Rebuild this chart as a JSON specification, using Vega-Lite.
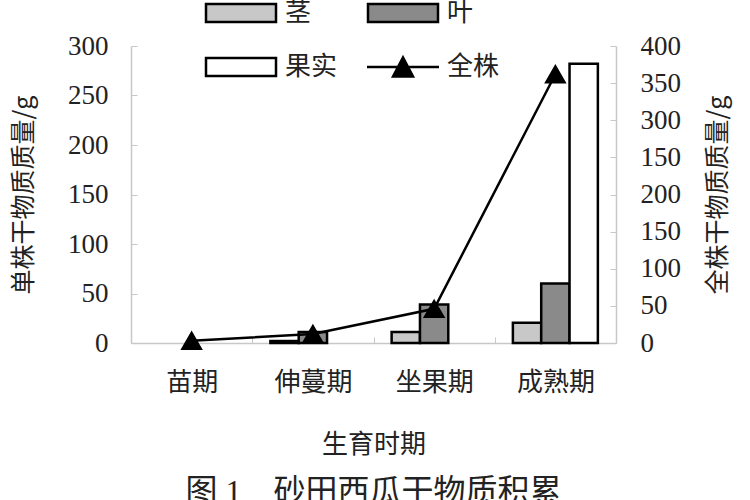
{
  "$schema": "https://vega.github.io/schema/vega-lite/v6.json",
  "autosize": {"type": "none"},
  "width": 485,
  "height": 297,
  "padding": {"left": 131, "top": 46, "right": 134, "bottom": 157},
  "background": "white",
  "config": {"view": {"stroke": null}},
  "datasets": {
    "parts": [
      {"stage": "伸蔓期", "part": "茎", "mass": 2},
      {"stage": "伸蔓期", "part": "叶", "mass": 11},
      {"stage": "坐果期", "part": "茎", "mass": 11},
      {"stage": "坐果期", "part": "叶", "mass": 39},
      {"stage": "成熟期", "part": "茎", "mass": 20.5},
      {"stage": "成熟期", "part": "叶", "mass": 60},
      {"stage": "成熟期", "part": "果实", "mass": 282}
    ],
    "whole": [
      {"stage": "苗期", "part": "全株", "mass": 3},
      {"stage": "伸蔓期", "part": "全株", "mass": 12},
      {"stage": "坐果期", "part": "全株", "mass": 46},
      {"stage": "成熟期", "part": "全株", "mass": 362}
    ]
  },
  "title": {
    "text": "图 1\u3000砂田西瓜干物质积累",
    "orient": "bottom",
    "anchor": "middle",
    "fontSize": 32,
    "fontWeight": "normal",
    "font": "Liberation Serif, Noto Sans CJK SC",
    "color": "#222",
    "offset": 20
  },
  "layer": [
    {
      "data": {"name": "parts"},
      "mark": {"type": "bar", "strokeWidth": 2.5},
      "encoding": {
        "x": {
          "field": "stage",
          "type": "nominal",
          "sort": ["苗期", "伸蔓期", "坐果期", "成熟期"],
          "scale": {"domain": ["苗期", "伸蔓期", "坐果期", "成熟期"], "paddingInner": 0, "paddingOuter": 0},
          "axis": {
            "title": "生育时期",
            "labelAngle": 0,
            "tickBand": "extent",
            "tickSize": -6,
            "tickColor": "#c8c8c8",
            "domainColor": "#c8c8c8",
            "domainWidth": 1.5,
            "labelFont": "Noto Sans CJK SC",
            "labelFontSize": 26,
            "labelColor": "#222",
            "labelPadding": 32,
            "titleFont": "Noto Sans CJK SC",
            "titleFontSize": 26,
            "titleFontWeight": "normal",
            "titleColor": "#222",
            "titlePadding": 36
          }
        },
        "xOffset": {
          "field": "part",
          "type": "nominal",
          "sort": ["茎", "叶", "果实"],
          "scale": {"domain": ["茎", "叶", "果实"], "paddingInner": 0, "paddingOuter": 0.64}
        },
        "y": {
          "field": "mass",
          "type": "quantitative",
          "scale": {"domain": [0, 300], "nice": false},
          "axis": {
            "orient": "left",
            "values": [0, 50, 100, 150, 200, 250, 300],
            "grid": false,
            "title": "单株干物质质量/g",
            "titleFont": "Noto Sans CJK SC",
            "titleFontSize": 25,
            "titleFontWeight": "normal",
            "titleColor": "#222",
            "titlePadding": 31,
            "labelFont": "Liberation Serif",
            "labelFontSize": 27,
            "labelColor": "#222",
            "labelPadding": 29,
            "labelFlush": false,
            "tickSize": -6,
            "tickColor": "#c8c8c8",
            "domainColor": "#c8c8c8",
            "domainWidth": 1.5
          }
        },
        "fill": {
          "field": "part",
          "type": "nominal",
          "scale": {"domain": ["茎", "果实", "叶", "全株"], "range": ["#c8c8c8", "#ffffff", "#8a8a8a", "#000000"]},
          "legend": {
            "title": null,
            "orient": "none",
            "legendX": 74,
            "legendY": -46,
            "columns": 2,
            "columnPadding": 24,
            "rowPadding": 25,
            "padding": 0,
            "labelFont": "Noto Sans CJK SC",
            "labelFontSize": 26,
            "labelColor": "#222",
            "labelOffset": 54,
            "symbolSize": 400,
            "symbolStrokeWidth": 2.5,
            "encode": {
              "symbols": {
                "update": {
                  "shape": {"signal": "datum.value === '全株' ? 'M-1.3,0H5.9M1.3,0.95L2.3,-0.95L3.3,0.95Z' : 'M-1.2,-0.9H5.8V0.9H-1.2Z'"},
                  "strokeWidth": {"value": 2.5},
                  "opacity": {"value": 1}
                }
              }
            }
          }
        },
        "stroke": {
          "field": "part",
          "type": "nominal",
          "scale": {"domain": ["茎", "果实", "叶", "全株"], "range": ["#000000", "#000000", "#000000", "#000000"]},
          "legend": {
            "title": null,
            "orient": "none",
            "legendX": 74,
            "legendY": -46,
            "columns": 2,
            "columnPadding": 24,
            "rowPadding": 25,
            "padding": 0,
            "labelFont": "Noto Sans CJK SC",
            "labelFontSize": 26,
            "labelColor": "#222",
            "labelOffset": 54,
            "symbolSize": 400,
            "symbolStrokeWidth": 2.5
          }
        }
      }
    },
    {
      "data": {"name": "whole"},
      "mark": {"type": "line", "strokeWidth": 2.5, "point": {"shape": "triangle-up", "size": 360, "filled": true, "fill": "black"}},
      "encoding": {
        "x": {"field": "stage", "type": "nominal", "sort": ["苗期", "伸蔓期", "坐果期", "成熟期"]},
        "y": {
          "field": "mass",
          "type": "quantitative",
          "scale": {"domain": [0, 400], "nice": false},
          "axis": {
            "orient": "right",
            "values": [0, 50, 100, 150, 200, 250, 300, 350, 400],
            "labelExpr": "datum.value == 250 ? '150' : datum.label",
            "grid": false,
            "title": "全株干物质质量/g",
            "titleAngle": -90,
            "titleFont": "Noto Sans CJK SC",
            "titleFontSize": 25,
            "titleFontWeight": "normal",
            "titleColor": "#222",
            "titlePadding": 50,
            "labelFont": "Liberation Serif",
            "labelFontSize": 27,
            "labelColor": "#222",
            "labelPadding": 30,
            "labelFlush": false,
            "tickSize": -6,
            "tickColor": "#c8c8c8",
            "domainColor": "#c8c8c8",
            "domainWidth": 1.5
          }
        },
        "stroke": {"field": "part", "type": "nominal"}
      }
    }
  ],
  "resolve": {"scale": {"y": "independent"}}
}
